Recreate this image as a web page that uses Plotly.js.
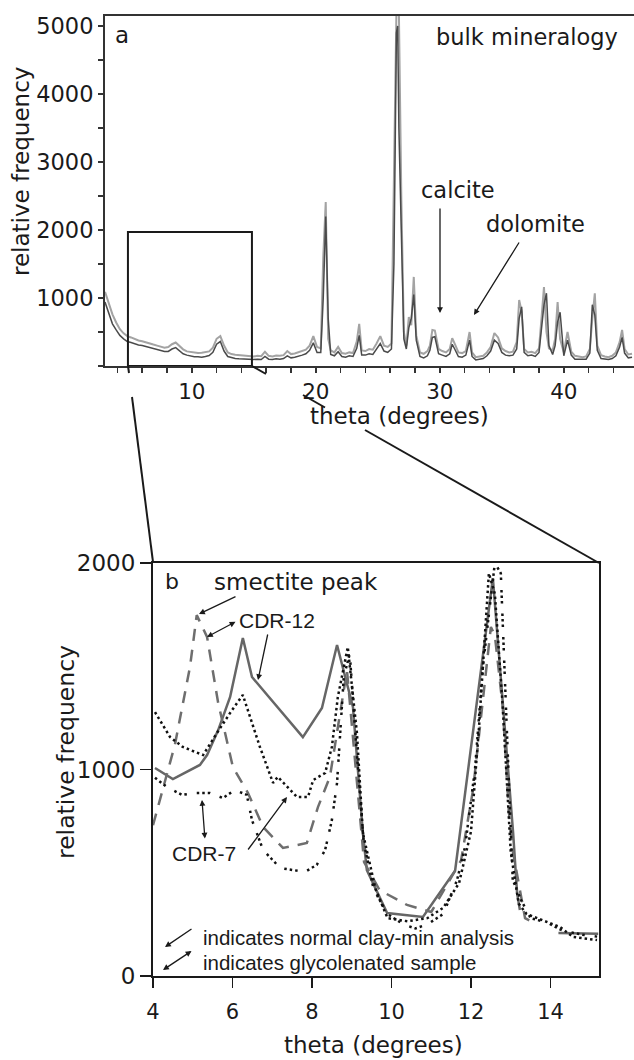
<!DOCTYPE html>
<html><head><meta charset="utf-8">
<script src="https://cdn.plot.ly/plotly-3.0.1.min.js"></script>
<style>html,body{margin:0;padding:0;background:#fff}</style>
</head><body>
<div id="chart" style="width:634px;height:1060px"></div>
<script>
// ---------- panel a: bulk mineralogy (two overlapping scans) ----------
const bulkTheta = [
  3.0, 3.3, 3.6, 3.9, 4.2, 4.5, 4.8, 5.1, 5.4, 5.7,
  6.0, 6.3, 6.6, 6.9, 7.2, 7.5, 7.8, 8.1, 8.4, 8.7,
  9.0, 9.3, 9.6, 9.9, 10.2, 10.5, 10.8, 11.1, 11.4, 11.7,
  12.0, 12.3, 12.6, 12.9, 13.2, 13.5, 13.8, 14.1, 14.4, 14.7,
  15.0, 15.3, 15.6, 15.9, 16.2, 16.5, 16.8, 17.1, 17.4, 17.7,
  18.0, 18.3, 18.6, 18.9, 19.2, 19.5, 19.8, 20.1, 20.4, 20.6,
  20.8, 21.0, 21.2, 21.5, 21.8, 22.1, 22.4, 22.7, 23.0, 23.3,
  23.5, 23.7, 24.0, 24.3, 24.6, 24.9, 25.2, 25.5, 25.8, 26.1,
  26.3, 26.5, 26.6, 26.7, 26.9, 27.1, 27.3, 27.5, 27.7, 27.9,
  28.1, 28.4, 28.7, 29.0, 29.2, 29.4, 29.6, 29.9, 30.2, 30.5,
  30.8, 31.0, 31.2, 31.5, 31.8, 32.1, 32.4, 32.6, 32.9, 33.2,
  33.5, 33.8, 34.1, 34.4, 34.7, 35.0, 35.3, 35.6, 35.9, 36.2,
  36.4, 36.6, 36.8, 37.1, 37.4, 37.7, 38.0, 38.2, 38.4, 38.6,
  38.8, 39.1, 39.3, 39.5, 39.7, 40.0, 40.3, 40.6, 40.9, 41.2,
  41.5, 41.8, 42.1, 42.3, 42.5, 42.7, 43.0, 43.3, 43.6, 43.9,
  44.2, 44.5, 44.7, 44.9, 45.2, 45.5
];
const bulkScanLight = [
  1090, 930, 760, 640, 540, 480, 440, 420, 395, 375,
  365, 345, 330, 315, 300, 285, 270, 280, 320, 345,
  290, 245, 215, 205, 195, 190, 195, 200, 215, 270,
  400, 440, 300, 200, 175, 165, 160, 150, 145, 150,
  140, 150, 145, 210, 150, 140, 155, 150, 160, 220,
  175, 185, 200, 225, 240, 300, 440, 280, 260, 1600,
  2410, 400, 230, 200, 280, 190, 180, 200, 190, 360,
  620, 230, 220, 250, 240, 330, 440, 300, 280, 330,
  2900, 5200, 5200, 5200, 2440, 500, 300, 720, 600, 1310,
  450, 200, 180, 220, 300, 530, 520, 250, 220, 200,
  250, 410, 330, 200, 190, 220, 500, 200, 130, 140,
  150, 200, 280, 485, 420, 260, 220, 200, 210, 350,
  970, 800, 250, 200, 210, 190, 260, 700, 1160, 500,
  260, 230, 400, 940, 400, 200, 500, 210, 150, 140,
  130, 140, 250, 700, 1070, 300, 160, 140, 130, 150,
  200, 350, 530, 250, 170, 180
];
const bulkScanDark = [
  940, 790, 620, 530, 450, 400, 360, 345, 325, 310,
  300, 285, 270, 250, 240, 225, 215, 215, 250, 270,
  220, 180, 160, 145, 135, 135, 130, 140, 155, 200,
  320, 360, 220, 140, 120, 110, 105, 100, 95, 100,
  95, 100, 95, 140, 100, 95, 105, 100, 110, 150,
  120, 130, 140, 160, 180, 230, 340, 200, 200, 1000,
  2200, 700, 170, 150, 210, 140, 130, 150, 140, 260,
  450, 160, 160, 180, 170, 250, 330, 220, 200, 250,
  1500, 4900, 5000, 3500, 1900, 400, 250, 560, 700, 1050,
  380, 140, 120, 150, 230, 420, 430, 180, 160, 140,
  180, 320, 250, 140, 130, 160, 380, 140, 90, 100,
  110, 150, 220, 380, 330, 200, 160, 150, 160, 250,
  700, 870, 200, 150, 160, 140, 200, 550, 900, 1070,
  300, 170, 300, 650, 790, 150, 380, 160, 100, 100,
  95, 100, 190, 900, 750, 230, 110, 100, 95, 110,
  150, 280, 420, 190, 120, 130
];
const bulkFreqTicks = [1000, 2000, 3000, 4000, 5000];

// ---------- panel b: clay fraction, 4-15 degrees ----------
const cdr12NormalTheta = [4.05, 4.5, 5.18, 5.36, 5.64, 5.94, 6.26, 6.49, 7.77, 8.25, 8.63, 9.03, 9.28, 9.38, 9.89, 10.79, 11.6, 12.23, 12.55, 13.06, 13.16, 13.23, 13.7, 14.2, 15.2];
const cdr12NormalFreq  = [1007, 954, 1022, 1070, 1191, 1351, 1637, 1448, 1157, 1298, 1603, 1303, 692, 513, 305, 286, 510, 1433, 1927, 692, 400, 320, null, 208, 205];

const cdr12GlycTheta = [4.0, 4.55, 4.93, 5.1, 5.36, 5.64, 6.01, 6.39, 6.77, 7.27, 7.87, 8.15, 8.45, 8.78, 8.88, 9.31, 9.7, 10.39, 11.0, 11.75, 12.05, 12.5, 12.6, 12.8, 12.95, 13.06, 13.23, 13.36, 13.6];
const cdr12GlycFreq  = [730, 1119, 1496, 1748, 1642, 1322, 1012, 886, 722, 620, 644, 818, 964, 1351, 1480, 552, 416, 344, 310, 560, 900, 1690, 1650, 1300, 800, 596, 416, 280, 255];

const cdr7NormalTheta = [4.05, 4.43, 4.75, 5.26, 5.61, 5.94, 6.26, 6.69, 7.02, 7.14, 7.62, 7.9, 8.03, 8.33, 8.5, 8.65, 8.9, 9.13, 9.28, 9.6, 9.9, 10.4, 10.9, 11.3, 11.7, 12.0, 12.2, 12.45, 12.6, 12.8, 13.0, 13.2, 13.4, 13.8, 14.24, 14.57, 15.17];
const cdr7NormalFreq  = [1278, 1157, 1109, 1070, 1177, 1274, 1361, 1109, 935, 964, 867, 867, 949, 983, 1109, 1351, 1593, 1177, 692, 420, 280, 265, 280, 330, 450, 700, 1200, 1950, 1850, 1300, 600, 350, 300, 270, 237, 189, 174];

const cdr7GlycTheta = [4.05, 4.35, 4.73, 5.06, 5.43, 5.76, 6.06, 6.36, 6.49, 6.77, 7.2, 7.82, 8.12, 8.33, 8.5, 8.63, 8.8, 8.95, 9.1, 9.3, 9.55, 9.9, 10.3, 10.6, 10.9, 11.3, 11.65, 11.85, 12.1, 12.3, 12.6, 12.75, 12.9, 13.05, 13.26, 13.5, 13.9, 14.3, 14.8, 15.2];
const cdr7GlycFreq  = [960, 915, 877, 886, 886, 862, 901, 877, 755, 610, 523, 504, 538, 610, 755, 935, 1450, 1560, 1150, 650, 420, 300, 250, 230, 250, 300, 465, 625, 1000, 1500, 2000, 1950, 1200, 465, 368, 280, 260, 220, 200, 190];
const clayFreqTicks = [0, 1000, 2000];

// ---------- layout helpers ----------
const W = 634, H = 1060;
const px = x => x / W;
const py = y => 1 - y / H;
const WIDE = 'DejaVu Sans, Verdana, sans-serif';
const ARIAL = 'Liberation Sans, Arial, sans-serif';
const INK = '#1a1a1a';

const traces = [
  {x: bulkTheta, y: bulkScanLight, xaxis: 'x', yaxis: 'y', mode: 'lines', line: {color: '#a3a3a3', width: 2}, hoverinfo: 'skip'},
  {x: bulkTheta, y: bulkScanDark, xaxis: 'x', yaxis: 'y', mode: 'lines', line: {color: '#4a4a4a', width: 1.5}, hoverinfo: 'skip'},
  {x: cdr12NormalTheta, y: cdr12NormalFreq, xaxis: 'x2', yaxis: 'y2', mode: 'lines', connectgaps: false, line: {color: '#666666', width: 2.5}},
  {x: cdr12GlycTheta, y: cdr12GlycFreq, xaxis: 'x2', yaxis: 'y2', mode: 'lines', line: {color: '#6e6e6e', width: 2.5, dash: '12px,9px'}},
  {x: cdr7NormalTheta, y: cdr7NormalFreq, xaxis: 'x2', yaxis: 'y2', mode: 'lines', line: {color: '#111111', width: 2.5, dash: '2.5px,3px'}},
  {x: cdr7GlycTheta, y: cdr7GlycFreq, xaxis: 'x2', yaxis: 'y2', mode: 'lines', line: {color: '#111111', width: 2.5, dash: '2.5px,3px,2.5px,3px,2.5px,10px'}}
];

function txt(text, x, y, size, family, opts) {
  return Object.assign({text: text, xref: 'paper', yref: 'paper', x: px(x), y: py(y),
    xanchor: 'center', yanchor: 'middle', showarrow: false,
    font: {family: family, size: size, color: INK}}, opts || {});
}
function arrow(hx, hy, tx, ty, both) {
  const a = {text: '', xref: 'paper', yref: 'paper', x: px(hx), y: py(hy),
    ax: tx - hx, ay: ty - hy, showarrow: true, arrowhead: 2, arrowsize: 0.9,
    arrowwidth: 1.3, arrowcolor: INK, standoff: 0, startstandoff: 0};
  if (both) { a.arrowside = 'end+start'; a.startarrowhead = 2; a.startarrowsize = 0.9; }
  return a;
}

const annotations = [
  // panel a
  txt('a', 122, 35, 23, WIDE),
  txt('bulk mineralogy', 527, 37, 22.5, WIDE),
  txt('calcite', 458, 190, 22.5, WIDE),
  txt('dolomite', 535, 224, 22.5, WIDE),
  arrow(440, 313, 440, 207, false),
  arrow(474, 315, 520, 241, false),
  txt('theta (degrees)', 399, 416, 23, WIDE),
  txt('relative frequency', 21, 172, 23, WIDE, {textangle: -90}),
  // panel b
  txt('b', 172, 581, 22, WIDE),
  txt('smectite peak', 212, 582, 23, WIDE, {xanchor: 'left'}),
  txt('CDR-12', 237, 620, 21, ARIAL, {xanchor: 'left'}),
  txt('CDR-7', 204, 853, 21, ARIAL),
  txt('indicates normal clay-min analysis', 201, 937, 20.5, ARIAL, {xanchor: 'left'}),
  txt('indicates glycolenated sample', 201, 962, 20.5, ARIAL, {xanchor: 'left'}),
  arrow(199, 614, 237, 596, false),
  arrow(207, 637, 237, 621, true),
  arrow(258, 680, 268, 633, false),
  arrow(202, 800, 205, 840, true),
  arrow(287, 797, 247, 851, false),
  arrow(165, 947, 193, 928, false),
  arrow(163, 970, 193, 950, true),
  txt('theta (degrees)', 373, 1045, 23, WIDE),
  txt('relative frequency', 66, 752, 23.5, WIDE, {textangle: -90})
];

function seg(x0, y0, x1, y1) {
  return {type: 'line', xref: 'paper', yref: 'paper', x0: px(x0), y0: py(y0), x1: px(x1), y1: py(y1),
    line: {color: INK, width: 2}};
}
const shapes = [
  {type: 'rect', xref: 'x', yref: 'y', x0: 4.85, x1: 14.85, y0: 0, y1: 1970, line: {color: INK, width: 2}},
  seg(128, 366, 129, 373),
  seg(132, 397, 153, 562),
  seg(252, 366, 266, 374),
  seg(303, 395, 325, 407.5),
  seg(365, 430, 599, 563)
];

const layout = {
  width: W, height: H,
  margin: {l: 0, r: 0, t: 0, b: 0},
  paper_bgcolor: '#ffffff', plot_bgcolor: '#ffffff',
  showlegend: false,
  xaxis: {
    domain: [px(105), 1], range: [3, 45.66], anchor: 'y',
    showline: true, mirror: true, linecolor: '#333333', linewidth: 2,
    showgrid: false, zeroline: false,
    ticks: 'outside', tick0: 0, dtick: 10, ticklen: 5, tickwidth: 1.5, tickcolor: '#333333',
    minor: {tick0: 0, dtick: 2, ticks: 'outside', ticklen: 5, tickwidth: 1.5, tickcolor: '#333333'},
    ticklabelstandoff: 0,
    tickfont: {family: WIDE, size: 21.5, color: INK}
  },
  yaxis: {
    domain: [py(366), py(16)], range: [0, 5147], anchor: 'x',
    showline: true, linecolor: '#333333', linewidth: 2,
    showgrid: false, zeroline: false,
    tickmode: 'array', tickvals: bulkFreqTicks,
    ticks: 'outside', ticklen: 5, tickwidth: 1.5, tickcolor: '#333333',
    minor: {tick0: 0, dtick: 500, ticks: 'outside', ticklen: 5, tickwidth: 1.5, tickcolor: '#333333'},
    tickfont: {family: WIDE, size: 22.5, color: INK}
  },
  xaxis2: {
    domain: [px(153), px(599)], range: [4, 15.22], anchor: 'y2',
    showline: true, mirror: true, linecolor: INK, linewidth: 2,
    showgrid: false, zeroline: false,
    ticks: 'outside', tick0: 0, dtick: 2, ticklen: 10, tickwidth: 1.5, tickcolor: INK,
    ticklabelstandoff: 6,
    tickfont: {family: WIDE, size: 21, color: INK}
  },
  yaxis2: {
    domain: [py(976), py(563)], range: [0, 2000], anchor: 'x2',
    showline: true, mirror: true, linecolor: INK, linewidth: 2,
    showgrid: false, zeroline: false,
    tickmode: 'array', tickvals: clayFreqTicks,
    ticks: 'outside', ticklen: 11, tickwidth: 1.5, tickcolor: INK,
    tickfont: {family: WIDE, size: 23, color: INK}
  },
  annotations: annotations,
  shapes: shapes
};

Plotly.newPlot('chart', traces, layout, {displayModeBar: false, staticPlot: true});
</script>
</body></html>
